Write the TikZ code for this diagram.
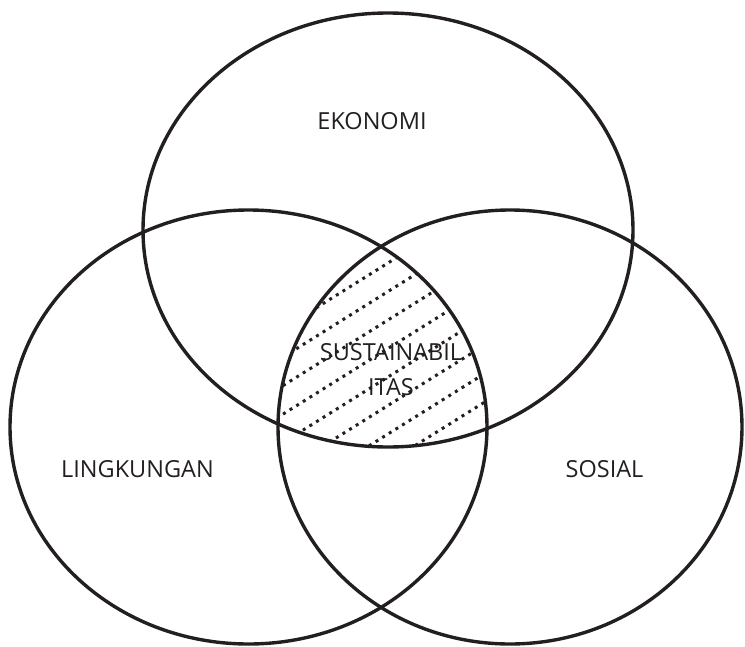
\documentclass[tikz,border=0pt]{standalone}
\usepackage{fontspec}
\setmainfont{Open Sans}
\definecolor{ink}{HTML}{231F20}
\begin{document}
\begin{tikzpicture}[x=1pt,y=-1pt,
  ring/.style={draw=ink,line width=3.4pt},
  hatchline/.style={draw=ink,line width=3pt,dash pattern=on 3pt off 4.8pt},
  label/.style={text=ink,font=\fontsize{23.5}{28}\selectfont,anchor=base,inner sep=0pt}]
\useasboundingbox (0,0) rectangle (745,646);
% hatching in the triple intersection
\begin{scope}
  \clip (388,230) ellipse [x radius=245pt, y radius=217pt];
  \clip (248.5,427) ellipse [x radius=238.5pt, y radius=217pt];
  \clip (510,427) ellipse [x radius=232pt, y radius=217pt];
  \foreach \k in {0,...,8}{
    \pgfmathsetmacro{\yy}{268+28.5*\k}
    \draw[hatchline] (250,\yy+81.25) -- (510,\yy-81.25);
  }
\end{scope}
% circles
\draw[ring] (388,230) ellipse [x radius=245pt, y radius=217pt];
\draw[ring] (248.5,427) ellipse [x radius=238.5pt, y radius=217pt];
\draw[ring] (510,427) ellipse [x radius=232pt, y radius=217pt];
% labels
\node[label] (eko) at (372,129) {EKONOMI};
\node[label] (ling) at (137.5,477) {LINGKUNGAN};
\node[label] (sos) at (604.5,477) {SOSIAL};
\node[label] (sust) at (391,360) {SUSTAINABIL};
\node[label] (itas) at (391,395) {ITAS};
\end{tikzpicture}
\end{document}
